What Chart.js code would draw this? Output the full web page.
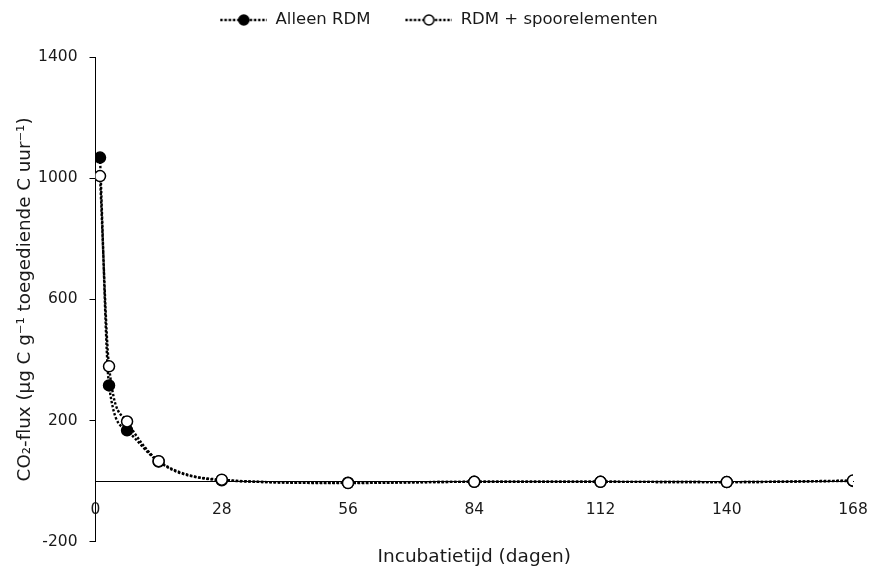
<!DOCTYPE html>
<html>
<head>
<meta charset="utf-8">
<script src="https://cdn.jsdelivr.net/npm/chart.js@4.4.1/dist/chart.umd.min.js"></script>
<style>
body{margin:0;background:#fff;}
#wrap{width:871px;height:568px;position:relative;}
</style>
</head>
<body>
<div id="wrap"><canvas id="fluxChart"></canvas></div>
<script>
const days=[1,3,7,14,28,56,84,112,140,168];
const rdmOnly=[1068,316,168,65,3,-5,-2,-2,-3,1];
const rdmTrace=[1007,379,197,66,5,-6,-2,-2,-3,2];
const xTicks=[0,28,56,84,112,140,168];
const yTicks=[-200,200,600,1000,1400];
const seriesNames=["Alleen RDM","RDM + spoorelementen"];

const ink="#1a1a1a";
const font="'DejaVu Sans', Verdana, sans-serif";

/* legend icon: dotted line with marker */
function legendIcon(filled){
const c=document.createElement("canvas");
c.width=72;
c.height=14;
const g=c.getContext("2d");
g.strokeStyle="#000";
g.lineWidth=2.4;
g.setLineDash([2.4,1.8]);
g.beginPath();
g.moveTo(25,7);
g.lineTo(72,7);
g.stroke();
g.setLineDash([]);
g.beginPath();
g.arc(48.5,7,5,0,Math.PI*2);
g.fillStyle=filled?"#000":"#fff";
g.fill();
g.lineWidth=1.5;
g.stroke();
return c;
}
const icons=[legendIcon(true),legendIcon(false)];

/* extra room under the legend */
const legendGap={
id:"legendGap",
beforeInit(chart){
const fit=chart.legend.fit;
chart.legend.fit=function(){
fit.bind(chart.legend)();
this.height+=18.75;
};
}
};

const toPoints=(vals)=>days.map((d,i)=>({x:d,y:vals[i]}));

new Chart(
document.getElementById("fluxChart"),
{
type:"line",
data:{
datasets:[
{
label:seriesNames[0],
data:toPoints(rdmOnly),
order:1,
borderColor:"#000",
borderWidth:2.4,
borderDash:[2.4,1.8],
cubicInterpolationMode:"monotone",
pointRadius:5.5,
pointBackgroundColor:"#000",
pointBorderColor:"#000",
pointBorderWidth:1.5
},
{
label:seriesNames[1],
data:toPoints(rdmTrace),
order:0,
borderColor:"#000",
borderWidth:2.4,
borderDash:[2.4,1.8],
cubicInterpolationMode:"monotone",
pointRadius:5.5,
pointBackgroundColor:"#fff",
pointBorderColor:"#000",
pointBorderWidth:1.5
}
]
},
plugins:[legendGap],
options:{
responsive:true,
maintainAspectRatio:false,
animation:false,
layout:{
padding:{top:1.75,left:0,right:18,bottom:0}
},
plugins:{
tooltip:{enabled:false},
legend:{
position:"top",
labels:{
usePointStyle:true,
pointStyleWidth:72,
padding:10,
color:ink,
font:{family:font,size:16.5},
generateLabels:(chart)=>{
const items=Chart.defaults.plugins.legend.labels.generateLabels(chart);
items.sort((a,b)=>a.datasetIndex-b.datasetIndex);
items.forEach(it=>{it.pointStyle=icons[it.datasetIndex];});
return items;
}
}
},
title:{
display:true,
position:"bottom",
fullSize:false,
text:"Incubatietijd (dagen)",
color:ink,
font:{family:font,size:18.5,weight:"normal"},
padding:{top:4,bottom:0}
}
},
scales:{
x:{
type:"linear",
position:{y:0},
min:0,
max:168,
afterBuildTicks:(s)=>{s.ticks=xTicks.map(v=>({value:v}));},
grid:{drawOnChartArea:false,drawTicks:true,tickLength:19,tickColor:"rgba(0,0,0,0)"},
border:{display:true,color:"#000",width:1},
ticks:{color:ink,padding:0,font:{family:font,size:15.5},maxRotation:0,callback:(v)=>String(v)}
},
y:{
type:"linear",
min:-200,
max:1400,
afterBuildTicks:(s)=>{s.ticks=yTicks.map(v=>({value:v}));},
grid:{drawOnChartArea:false,drawTicks:true,tickLength:6,color:"#000"},
border:{display:true,color:"#000",width:1},
ticks:{color:ink,padding:12,font:{family:font,size:15.5},callback:(v)=>String(v)},
title:{
display:true,
text:"CO₂-flux (µg C g⁻¹ toegediende C uur⁻¹)",
color:ink,
font:{family:font,size:18.3},
padding:{top:14,bottom:-9.9}
}
}
}
}
}
);
</script>
</body>
</html>
